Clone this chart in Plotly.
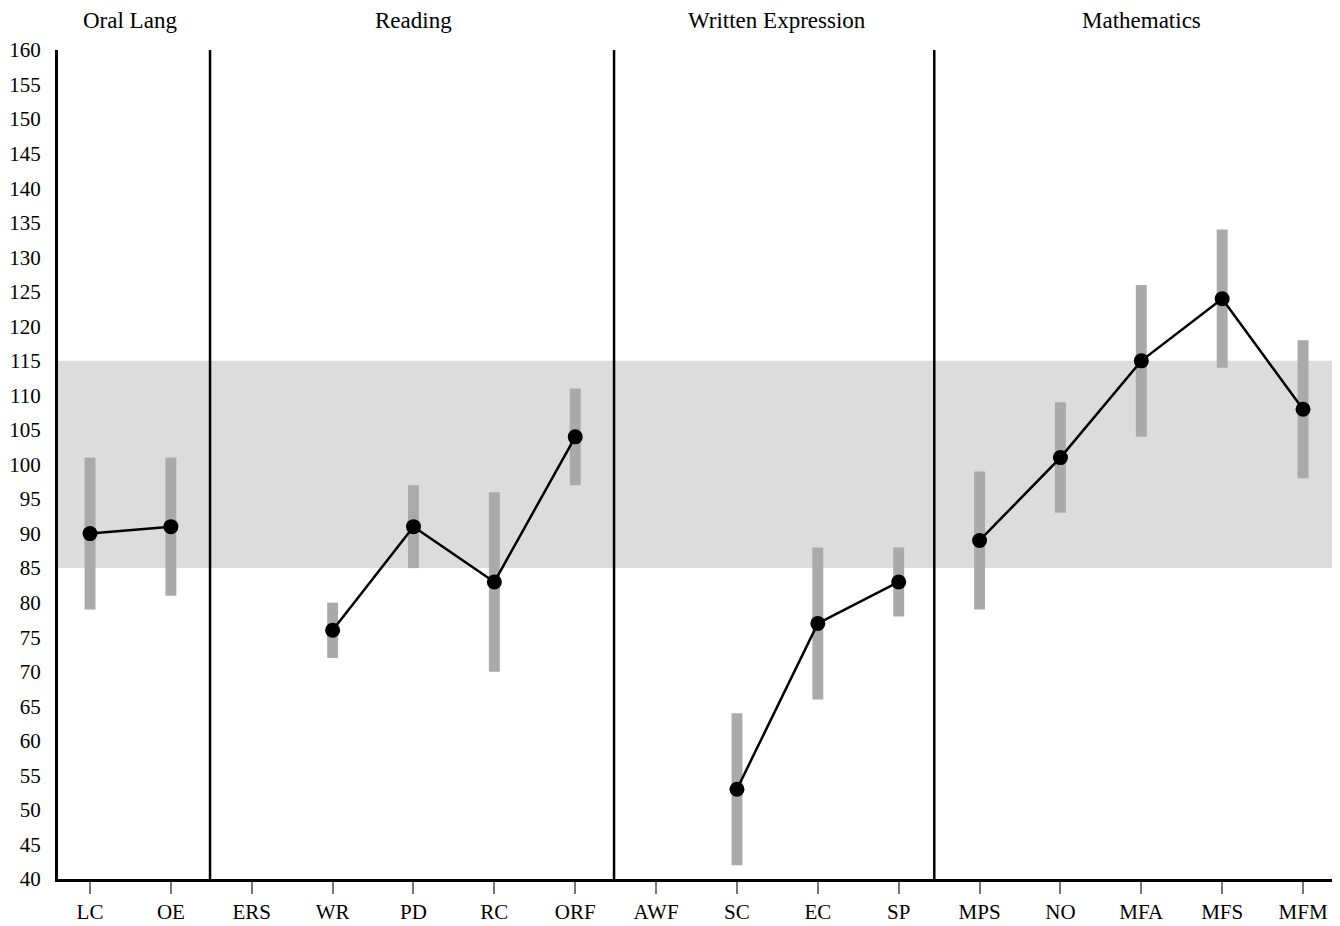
import plotly.graph_objects as go

categories = ["LC", "OE", "ERS", "WR", "PD", "RC", "ORF", "AWF", "SC", "EC", "SP",
              "MPS", "NO", "MFA", "MFS", "MFM"]
scores = [90, 91, None, 76, 91, 83, 104, None, 53, 77, 83, 89, 101, 115, 124, 108]
ci_low = [79, 81, None, 72, 85, 70, 97, None, 42, 66, 78, 79, 93, 104, 114, 98]
ci_high = [101, 101, None, 80, 97, 96, 111, None, 64, 88, 88, 99, 109, 126, 134, 118]
groups = [("Oral Lang", 0, 1), ("Reading", 2, 6), ("Written Expression", 7, 10), ("Mathematics", 11, 15)]
avg_low, avg_high = 85, 115
y_ticks = list(range(40, 165, 5))

FONT = "Liberation Serif, Times New Roman, serif"
x_idx = list(range(len(categories)))

fig = go.Figure()

# confidence bands as bars
bx, bbase, bh = [], [], []
for i, (lo, hi) in enumerate(zip(ci_low, ci_high)):
    if lo is not None:
        bx.append(i); bbase.append(lo); bh.append(hi - lo)
fig.add_trace(go.Bar(x=bx, y=bh, base=bbase, width=0.135, marker=dict(color="#aaaaaa", line_width=0),
                     showlegend=False, hoverinfo="skip"))

for name, a, b in groups:
    xs = [i for i in range(a, b + 1) if scores[i] is not None]
    ys = [scores[i] for i in xs]
    fig.add_trace(go.Scatter(x=xs, y=ys, mode="lines+markers",
                             line=dict(color="black", width=2.5),
                             marker=dict(color="black", size=15),
                             showlegend=False, name=name))

# average band
fig.add_shape(type="rect", xref="paper", yref="y", x0=0, x1=1, y0=avg_low, y1=avg_high,
              fillcolor="#dcdcdc", line_width=0, layer="below")

# dividers between groups
for xd in [1.484, 6.48, 10.44]:
    fig.add_shape(type="line", xref="x", yref="paper", x0=xd, x1=xd, y0=0, y1=1,
                  line=dict(color="black", width=2.5))

for name, a, b in groups:
    fig.add_annotation(x=(a + b) / 2, xref="x", y=1.0, yref="paper", yanchor="middle", yshift=30,
                       text=name, showarrow=False, font=dict(family=FONT, size=23, color="black"))

fig.update_layout(
    width=1340, height=926,
    margin=dict(l=50, r=0, t=42, b=55),
    plot_bgcolor="white", paper_bgcolor="white",
    barmode="overlay",
    font=dict(family=FONT, size=21, color="black"),
    xaxis=dict(range=[-0.396, 15.556], tickmode="array", tickvals=x_idx, ticktext=categories,
               showgrid=False, zeroline=False, showline=True, linecolor="black", linewidth=3,
               ticks="outside", ticklen=12, tickcolor="#777777", tickwidth=1.5,
               tickfont=dict(family=FONT, size=21, color="black")),
    yaxis=dict(range=[40, 160], tickmode="array", tickvals=y_ticks,
               showgrid=False, zeroline=False, showline=True, linecolor="black", linewidth=3,
               ticks="", ticklabelstandoff=10,
               tickfont=dict(family=FONT, size=21, color="black")),
)

fig.write_html("out.html")
